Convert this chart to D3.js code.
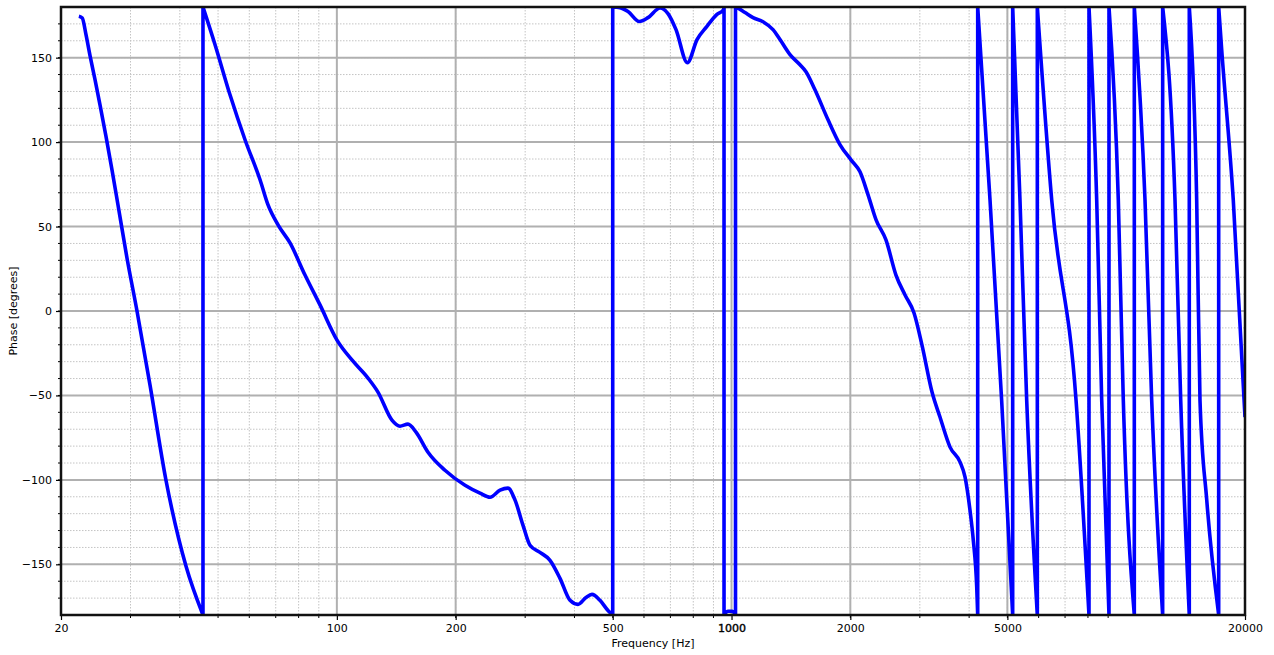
<!DOCTYPE html>
<html>
<head>
<meta charset="utf-8">
<script src="https://cdn.jsdelivr.net/npm/d3@7"></script>
<style>
  body { margin: 0; background: #fff; }
  text { font-family: "DejaVu Sans", sans-serif; }
</style>
</head>
<body>
<svg></svg>
<script>
// phase response, wrapped to [-180, 180]; repeated frequencies are the wrap jumps
const freqHz = [
  22.2, 22.64, 23.14, 23.69, 24.39, 25.11, 26.01, 26.93, 27.89, 29.39, 31.16, 33.62, 36.9, 41.48, 45.79,
  45.79, 49.13, 53.61, 58.52, 63.88, 66.93, 70.94, 76.09, 83.04, 90.63, 100.08, 109.2, 119.9, 127.1, 137.9,
  144.5, 151.4, 158.7, 170.2, 187.9, 211.2, 230.5, 244.4, 259.1, 271.4, 282.8, 296.3, 308.6, 327.1, 346.8,
  367.6, 389.7, 408.3, 427.8, 443.0, 464.2, 486.3, 500,
  500, 521.8, 546.7, 583.9, 614.4, 658.9, 690.2, 723.3, 772.8, 817.7, 865.3, 917.2, 954.4, 957.2,
  957.2, 979.7, 1002.8, 1023.5,
  1023.5, 1032.5, 1082, 1133.6, 1201.6, 1273.8, 1326.8, 1406.6, 1491, 1544, 1627, 1756, 1884, 2008, 2116,
  2218, 2324, 2462, 2610, 2752, 2900, 3038, 3221, 3374, 3578, 3794, 3906, 4020, 4099, 4181, 4205,
  4205, 4518, 4835, 5157,
  5157, 5381, 5596, 5954,
  5954, 6475, 7463, 8049,
  8049, 8419, 8669, 9045,
  9045, 9550, 9833, 10485,
  10485, 11160, 11604, 12371,
  12371, 13294, 13744, 14450,
  14450, 15087, 15381, 16000, 17154,
  17154, 17457, 18677, 20000
];
const phaseDeg = [
  174.5, 173.5, 163.6, 151.2, 137, 122.1, 103.2, 83.6, 62.8, 31.4, 0, -43.9, -100.2, -151.2, -180,
  180, 157.7, 128, 101.4, 77.7, 62.8, 51, 40.3, 21.3, 3.6, -17.2, -29, -39.7, -48, -64.6,
  -68.2, -67, -71.7, -83.6, -94.3, -103.2, -107.9, -110.3, -106.1, -104.9, -112, -126.9, -138.7, -142.9, -147.6,
  -158.3, -171.3, -173.7, -169.6, -167.8, -171.3, -177.3, -180,
  180, 179.6, 177.3, 171.4, 173.7, 179.4, 176.1, 166.6, 147, 160.7, 168.4, 175.5, 178.4, 180,
  -180, -177.8, -177.8, -180,
  180, 179.6, 176.7, 173.7, 171.3, 166.6, 160.7, 151.8, 145.8, 141.7, 131, 113.2, 98.4, 89.5, 82.4,
  68.8, 54, 42.1, 21.3, 9.5, -1.2, -20.2, -48, -62.8, -80.6, -89.5, -98.4, -118, -135.9, -163.6, -180,
  180, 65.8, -52.8, -180,
  180, 65.8, -52.8, -180,
  180, 65.8, -52.8, -180,
  180, 65.8, -52.8, -180,
  180, 65.8, -52.8, -180,
  180, 65.8, -52.8, -180,
  180, 65.8, -52.8, -180,
  180, 65.8, -52.8, -112, -180,
  180, 154.7, 65.8, -62.8
];
const xTickValues = [20, 100, 200, 500, 1000, 2000, 5000, 20000];
const yTickValues = [-150, -100, -50, 0, 50, 100, 150];

const width = 1274;
const height = 655;
const mLeft = 61, mRight = 1245, mTop = 7, mBottom = 615;

const svg = d3.select('svg')
  .attr('width', width)
  .attr('height', height);

const x = d3.scaleLog().domain([20, 20000]).range([mLeft, mRight]);
const y = d3.scaleLinear().domain([-180, 180]).range([mBottom, mTop]);

// minor grid: 2..9 of each decade, every 10 degrees
const xMinor = [];
[10, 100, 1000, 10000].forEach(d => {
  for (let k = 2; k <= 9; k++) {
    const v = k * d;
    if (v > 20 && v < 20000) xMinor.push(v);
  }
});
const yMinor = d3.range(-170, 180, 10);

const grid = svg.append('g');
grid.selectAll('.xminor')
  .data(xMinor)
  .enter().append('line')
  .attr('x1', d => x(d)).attr('x2', d => x(d))
  .attr('y1', mTop).attr('y2', mBottom)
  .attr('stroke', '#c4c4c4').attr('stroke-width', 1)
  .attr('stroke-dasharray', '1.5,1.5');
grid.selectAll('.yminor')
  .data(yMinor)
  .enter().append('line')
  .attr('x1', mLeft).attr('x2', mRight)
  .attr('y1', d => y(d)).attr('y2', d => y(d))
  .attr('stroke', '#c4c4c4').attr('stroke-width', 1)
  .attr('stroke-dasharray', '1.5,1.5');
grid.selectAll('.xmajor')
  .data(xTickValues)
  .enter().append('line')
  .attr('x1', d => x(d)).attr('x2', d => x(d))
  .attr('y1', mTop).attr('y2', mBottom)
  .attr('stroke', '#b0b0b0').attr('stroke-width', 2);
grid.selectAll('.ymajor')
  .data(yTickValues)
  .enter().append('line')
  .attr('x1', mLeft).attr('x2', mRight)
  .attr('y1', d => y(d)).attr('y2', d => y(d))
  .attr('stroke', '#b0b0b0').attr('stroke-width', 2);

svg.append('clipPath').attr('id', 'plot')
  .append('rect')
  .attr('x', mLeft).attr('y', mTop)
  .attr('width', mRight - mLeft).attr('height', mBottom - mTop);

// split at the wrap jumps, smooth each piece, join them with the vertical jumps
const pieces = [];
let cur = [];
freqHz.forEach((f, i) => {
  if (i > 0 && f === freqHz[i - 1]) { pieces.push(cur); cur = []; }
  cur.push(i);
});
pieces.push(cur);

const line = d3.line()
  .x(i => x(freqHz[i]))
  .y(i => y(phaseDeg[i]))
  .curve(d3.curveMonotoneX);

const pathD = pieces.map((p, k) => {
  const d = line(p);
  return k === 0 ? d : 'L' + d.slice(1);
}).join('');

svg.append('path')
  .attr('clip-path', 'url(#plot)')
  .attr('d', pathD)
  .attr('fill', 'none')
  .attr('stroke', '#0000ff')
  .attr('stroke-width', 3.6)
  .attr('stroke-linejoin', 'round');

// axes
const xAxis = svg.append('g')
  .attr('transform', `translate(0,${mBottom})`)
  .call(d3.axisBottom(x).tickValues(xTickValues).tickFormat(d3.format('d')).tickSize(5).tickPadding(4));
xAxis.append('g')
  .selectAll('line')
  .data(xMinor)
  .enter().append('line')
  .attr('x1', d => x(d)).attr('x2', d => x(d))
  .attr('y1', 0).attr('y2', 3)
  .attr('stroke', '#000');

const yAxis = svg.append('g')
  .attr('transform', `translate(${mLeft},0)`)
  .call(d3.axisLeft(y).tickValues(yTickValues).tickSize(5).tickPadding(4));
yAxis.append('g')
  .selectAll('line')
  .data(yMinor)
  .enter().append('line')
  .attr('y1', d => y(d)).attr('y2', d => y(d))
  .attr('x1', 0).attr('x2', -3)
  .attr('stroke', '#000');

[xAxis, yAxis].forEach(a => {
  a.select('.domain').remove();
  a.selectAll('text').attr('font-size', 11).attr('fill', '#000')
    .style('font-family', '"DejaVu Sans", sans-serif');
  a.selectAll('.tick line').attr('stroke', '#000').attr('stroke-width', 1.2);
});
xAxis.selectAll('.tick text')
  .filter(d => d === 1000)
  .attr('stroke', '#000').attr('stroke-width', 0.4);

// frame
svg.append('rect')
  .attr('x', mLeft).attr('y', mTop)
  .attr('width', mRight - mLeft).attr('height', mBottom - mTop)
  .attr('fill', 'none')
  .attr('stroke', '#111')
  .attr('stroke-width', 2.5);

svg.append('text')
  .attr('x', (mLeft + mRight) / 2)
  .attr('y', 647)
  .attr('text-anchor', 'middle')
  .attr('font-size', 11)
  .text('Frequency [Hz]');

svg.append('text')
  .attr('transform', `translate(17,${(mTop + mBottom) / 2}) rotate(-90)`)
  .attr('text-anchor', 'middle')
  .attr('font-size', 11)
  .text('Phase [degrees]');
</script>
</body>
</html>
